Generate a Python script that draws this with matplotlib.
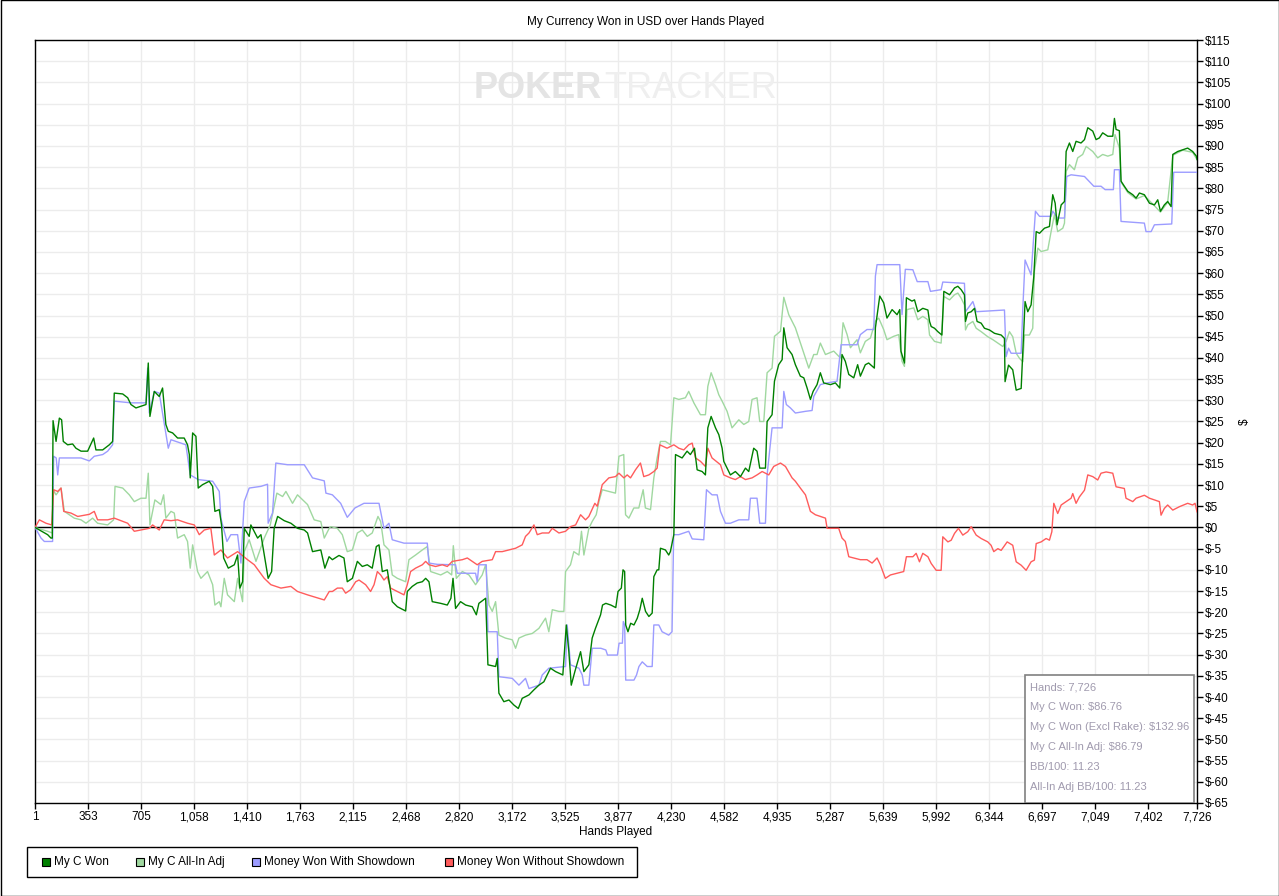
import matplotlib
matplotlib.use("Agg")
import matplotlib.pyplot as plt
from matplotlib.patches import Rectangle

# ---- data (hands played, dollars) ----
won_hands = [
    1, 41, 85, 107, 116, 121, 141, 163, 178, 189,
    218, 251, 273, 307, 351, 391, 406, 451, 495, 517,
    528, 584, 617, 639, 672, 705, 739, 754, 765, 794,
    827, 849, 871, 887, 916, 949, 993, 1015, 1027, 1033,
    1049, 1071, 1086, 1115, 1159, 1182, 1197, 1226, 1241, 1255,
    1286, 1326, 1348, 1363, 1381, 1392, 1425, 1436, 1481, 1503,
    1551, 1574, 1591, 1614, 1658, 1702, 1746, 1791, 1813, 1846,
    1901, 1928, 1956, 1978, 2022, 2055, 2077, 2111, 2144, 2177,
    2210, 2243, 2270, 2288, 2310, 2343, 2365, 2376, 2410, 2465,
    2476, 2509, 2542, 2576, 2598, 2620, 2642, 2698, 2742, 2766,
    2780, 2797, 2830, 2864, 2908, 2935, 2952, 2997, 3012, 3063,
    3074, 3085, 3118, 3152, 3185, 3214, 3240, 3285, 3318, 3351,
    3384, 3406, 3428, 3462, 3510, 3533, 3550, 3566, 3590, 3628,
    3650, 3683, 3705, 3727, 3761, 3774, 3796, 3829, 3862, 3877,
    3899, 3910, 3921, 3928, 3943, 3961, 3983, 4005, 4022, 4038,
    4049, 4060, 4082, 4104, 4115, 4137, 4148, 4159, 4192, 4214,
    4225, 4248, 4259, 4303, 4336, 4358, 4385, 4403, 4436, 4458,
    4474, 4496, 4525, 4547, 4569, 4580, 4602, 4624, 4657, 4691,
    4724, 4746, 4779, 4801, 4819, 4857, 4868, 4901, 4917, 4945,
    4968, 4979, 5001, 5034, 5056, 5089, 5112, 5134, 5156, 5174,
    5200, 5222, 5244, 5289, 5322, 5351, 5366, 5388, 5411, 5444,
    5470, 5488, 5521, 5543, 5581, 5588, 5617, 5643, 5665, 5699,
    5732, 5750, 5758, 5781, 5794, 5831, 5848, 5870, 5903, 5937,
    5948, 5959, 5981, 6003, 6030, 6043, 6081, 6114, 6136, 6158,
    6180, 6187, 6202, 6225, 6247, 6264, 6291, 6313, 6346, 6380,
    6424, 6446, 6450, 6473, 6501, 6524, 6557, 6568, 6583, 6601,
    6623, 6641, 6657, 6679, 6712, 6745, 6767, 6783, 6796, 6823,
    6845, 6856, 6878, 6900, 6922, 6955, 6978, 7000, 7033, 7055,
    7077, 7099, 7133, 7166, 7177, 7188, 7210, 7221, 7243, 7266,
    7299, 7321, 7343, 7376, 7410, 7443, 7465, 7483, 7509, 7531,
    7554, 7565, 7598, 7631, 7664, 7697, 7722, 7726,
]
won_usd = [
    0, -0.8, -1.7, -2.5, -2.5, 25.2, 20.3, 25.8, 25.4, 20.3,
    19.5, 19.7, 18.7, 18.0, 18.0, 21.1, 18.3, 18.3, 19.5, 20.3,
    31.7, 31.5, 30.6, 29.0, 28.2, 28.6, 29.0, 38.8, 26.2, 32.1,
    30.9, 32.9, 24.3, 22.7, 22.3, 21.1, 21.1, 19.5, 17.2, 11.7,
    22.3, 21.5, 9.3, 10.1, 10.9, 9.7, 3.8, 4.2, 0.6, -7.2,
    -9.6, -8.8, -6.5, -14.3, -12.8, -0.2, -2.1, 0.6, -2.5, -1.7,
    -12.0, -10.4, -0.2, 2.6, 1.6, 1.0, -0.2, -0.6, -1.3, -5.7,
    -5.3, -9.6, -6.9, -7.6, -6.6, -7.2, -12.8, -12.0, -8.0, -9.2,
    -8.8, -9.6, -4.5, -4.1, -10.4, -10.0, -15.1, -17.5, -18.7, -19.7,
    -15.1, -13.9, -13.1, -12.8, -12.0, -12.8, -17.5, -17.9, -18.3, -16.7,
    -12.0, -19.1, -17.5, -18.3, -18.7, -20.6, -17.9, -16.7, -32.4, -32.8,
    -30.9, -39.1, -41.1, -40.7, -41.9, -42.7, -40.3, -39.5, -38.3, -37.2,
    -36.4, -34.8, -33.2, -34.0, -34.8, -23.0, -29.3, -37.2, -34.0, -29.3,
    -34.0, -32.4, -26.1, -23.8, -20.6, -18.3, -17.9, -18.3, -18.9, -15.1,
    -14.3, -10.0, -10.4, -23.0, -24.6, -22.6, -23.0, -21.4, -19.4, -16.7,
    -18.3, -19.8, -21.0, -20.2, -11.6, -10.0, -10.0, -4.9, -5.3, -6.5,
    -5.7, -1.7, 17.2, 16.4, 18.0, 17.2, 18.7, 13.6, 13.2, 12.4,
    23.5, 26.2, 23.5, 21.9, 18.7, 15.6, 14.0, 12.4, 13.2, 12.0,
    14.0, 13.2, 18.7, 18.0, 14.0, 14.0, 25.0, 26.6, 34.5, 38.4,
    39.6, 47.1, 42.4, 40.8, 38.4, 35.7, 35.3, 32.9, 30.2, 32.1,
    33.7, 36.5, 34.1, 33.7, 34.1, 32.9, 40.8, 39.2, 36.1, 35.3,
    38.4, 35.7, 38.4, 38.8, 37.6, 47.1, 54.6, 53.0, 49.4, 51.4,
    50.2, 51.4, 41.6, 38.8, 54.2, 53.4, 53.7, 50.9, 51.7, 51.3,
    48.6, 47.4, 47.0, 46.2, 45.4, 55.7, 54.9, 56.5, 56.9, 56.1,
    54.9, 48.6, 50.6, 50.9, 51.7, 48.6, 48.2, 47.0, 46.6, 45.8,
    45.4, 44.6, 34.4, 38.3, 37.2, 32.4, 32.8, 41.5, 53.3, 50.9,
    52.5, 59.2, 69.8, 69.4, 70.6, 71.0, 78.5, 76.5, 71.4, 76.1,
    76.9, 88.7, 90.7, 88.7, 91.1, 90.7, 91.5, 94.3, 93.5, 91.5,
    91.9, 93.1, 92.3, 92.3, 96.5, 93.9, 93.6, 81.7, 80.5, 79.3,
    78.5, 77.7, 78.9, 78.5, 76.5, 76.1, 77.3, 74.6, 76.1, 76.9,
    75.7, 88.0, 88.7, 89.1, 89.5, 88.7, 87.6, 86.8,
]

allin_hands = [
    1, 85, 116, 121, 141, 174, 196, 229, 262, 307,
    340, 384, 417, 484, 524, 533, 584, 628, 661, 705,
    739, 754, 765, 798, 838, 856, 871, 905, 927, 949,
    993, 1015, 1033, 1049, 1082, 1104, 1148, 1182, 1197, 1226,
    1237, 1259, 1281, 1326, 1348, 1381, 1392, 1425, 1470, 1525,
    1565, 1609, 1647, 1669, 1713, 1746, 1813, 1857, 1901, 1924,
    1957, 1967, 2011, 2044, 2077, 2111, 2144, 2177, 2210, 2243,
    2281, 2299, 2321, 2354, 2376, 2410, 2465, 2487, 2531, 2576,
    2609, 2631, 2698, 2742, 2771, 2782, 2802, 2842, 2886, 2930,
    2974, 2997, 3019, 3041, 3063, 3085, 3129, 3174, 3196, 3218,
    3262, 3307, 3351, 3395, 3417, 3440, 3484, 3517, 3528, 3561,
    3583, 3617, 3634, 3650, 3683, 3705, 3732, 3750, 3772, 3860,
    3883, 3915, 3927, 3949, 3982, 4015, 4044, 4059, 4093, 4115,
    4137, 4159, 4192, 4226, 4248, 4281, 4325, 4347, 4381, 4425,
    4458, 4474, 4496, 4525, 4547, 4569, 4602, 4635, 4680, 4713,
    4746, 4768, 4801, 4819, 4846, 4868, 4901, 4917, 4957, 4979,
    5012, 5056, 5100, 5145, 5178, 5200, 5222, 5256, 5311, 5355,
    5373, 5400, 5422, 5466, 5488, 5521, 5555, 5588, 5610, 5643,
    5665, 5710, 5743, 5765, 5781, 5798, 5843, 5870, 5903, 5937,
    5948, 5981, 6025, 6043, 6081, 6114, 6136, 6158, 6180, 6187,
    6202, 6236, 6258, 6291, 6335, 6369, 6402, 6435, 6457, 6479,
    6501, 6524, 6546, 6568, 6579, 6612, 6634, 6645, 6668, 6690,
    6734, 6756, 6778, 6800, 6834, 6845, 6856, 6878, 6911, 6933,
    6966, 6989, 7033, 7066, 7099, 7133, 7166, 7181, 7210, 7221,
    7266, 7321, 7376, 7443, 7483, 7531, 7565, 7631, 7697, 7726,
]
allin_usd = [
    0, -0.9, -1.3, 8.9, 7.7, 9.3, 3.8, 3.0, 2.2, 1.8,
    1.0, 2.2, 1.0, 0.6, 1.8, 9.7, 9.3, 7.7, 6.1, 6.9,
    6.9, 12.8, 0.6, 6.5, 5.4, 7.7, 2.2, 3.8, 3.4, -2.5,
    -1.7, -3.3, -9.6, -4.1, -10.4, -12.0, -10.4, -13.5, -18.3, -17.5,
    -18.7, -12.0, -15.9, -17.5, -12.0, -17.5, -5.7, -2.9, -8.0, -2.5,
    0.6, 8.1, 7.3, 8.5, 5.7, 7.7, 5.4, 1.8, 1.4, -2.5,
    -0.2, 0.2, -0.2, -1.7, -5.7, -5.3, -1.3, -0.6, -2.1, -1.3,
    2.6, 1.4, -4.1, -5.3, -11.2, -12.0, -12.8, -7.6, -6.5, -5.3,
    -4.5, -10.4, -11.2, -10.4, -11.2, -4.3, -12.0, -10.4, -11.2, -13.5,
    -11.2, -8.8, -18.3, -19.8, -17.5, -25.4, -26.1, -26.5, -28.5, -26.1,
    -25.4, -25.0, -23.8, -21.4, -24.6, -19.4, -19.8, -19.8, -10.4, -8.8,
    -5.7, -6.5, -0.9, -6.5, -0.2, 1.4, 3.0, 6.1, 8.9, 8.1,
    16.8, 17.2, 3.0, 2.2, 4.6, 4.6, 8.9, 4.6, 4.2, 11.7,
    16.4, 20.3, 20.3, 19.5, 30.6, 30.2, 30.6, 32.1, 29.4, 26.6,
    26.6, 33.3, 36.5, 33.7, 31.3, 29.8, 27.4, 23.5, 25.4, 24.3,
    25.0, 30.2, 30.6, 25.0, 25.0, 36.5, 37.6, 45.1, 46.3, 54.3,
    50.2, 47.1, 42.4, 37.6, 40.8, 40.8, 43.5, 40.8, 41.6, 40.0,
    48.3, 45.5, 42.4, 44.3, 41.2, 43.9, 44.7, 48.7, 49.4, 46.7,
    44.3, 45.1, 45.5, 39.2, 38.0, 51.4, 51.8, 49.0, 49.8, 49.0,
    45.4, 43.9, 43.5, 54.5, 53.7, 54.9, 55.3, 54.1, 52.5, 46.6,
    47.8, 48.6, 47.0, 46.2, 45.0, 44.3, 43.5, 42.7, 43.9, 46.2,
    45.0, 41.1, 39.9, 39.1, 45.4, 45.4, 47.0, 60.4, 65.9, 65.1,
    65.5, 69.8, 73.8, 69.8, 70.6, 71.8, 84.0, 85.6, 84.4, 87.2,
    88.0, 89.9, 88.7, 87.2, 88.0, 87.6, 88.0, 92.7, 89.5, 81.5,
    79.0, 77.5, 78.3, 75.9, 74.4, 76.7, 87.8, 89.0, 88.5, 86.8,
]

showdown_hands = [
    1, 41, 63, 118, 125, 142, 152, 163, 307, 362,
    395, 451, 484, 517, 528, 639, 739, 750, 761, 794,
    827, 860, 887, 905, 1004, 1033, 1086, 1182, 1197, 1226,
    1237, 1248, 1277, 1303, 1348, 1370, 1392, 1425, 1503, 1547,
    1551, 1580, 1602, 1680, 1791, 1846, 1924, 1935, 1978, 2033,
    2077, 2128, 2188, 2288, 2321, 2354, 2376, 2454, 2609, 2620,
    2675, 2797, 2808, 2930, 2941, 2952, 3001, 3012, 3074, 3085,
    3174, 3218, 3262, 3285, 3351, 3373, 3417, 3528, 3539, 3561,
    3617, 3639, 3650, 3683, 3705, 3763, 3796, 3807, 3873, 3884,
    3906, 3912, 3921, 3928, 3983, 4000, 4016, 4038, 4071, 4104,
    4115, 4148, 4170, 4214, 4236, 4247, 4281, 4314, 4347, 4370,
    4447, 4465, 4502, 4536, 4558, 4591, 4624, 4680, 4746, 4757,
    4801, 4819, 4857, 4868, 4901, 4968, 4979, 4996, 5023, 5056,
    5123, 5167, 5178, 5222, 5267, 5333, 5360, 5466, 5488, 5532,
    5577, 5588, 5599, 5750, 5765, 5787, 5837, 5866, 5937, 5954,
    6025, 6036, 6180, 6187, 6236, 6258, 6446, 6457, 6473, 6490,
    6557, 6568, 6583, 6623, 6652, 6679, 6756, 6767, 6800, 6845,
    6860, 6889, 6978, 7040, 7088, 7115, 7170, 7177, 7210, 7221,
    7376, 7387, 7421, 7443, 7558, 7571, 7726,
]
showdown_usd = [
    0, -2.5, -3.3, -3.3, 16.8, 16.4, 12.4, 16.4, 16.4, 15.7,
    16.8, 17.2, 18.0, 19.5, 29.8, 29.4, 29.4, 37.6, 27.0, 32.1,
    31.7, 24.6, 18.7, 20.7, 19.5, 12.4, 11.3, 10.9, 10.1, 8.5,
    2.2, 0.6, -3.3, -1.7, -1.7, -8.4, 6.1, 9.3, 9.7, 10.2,
    1.0, 3.4, 15.2, 14.8, 14.8, 11.7, 11.0, 8.1, 7.7, 5.7,
    2.4, 4.6, 5.7, 5.7, -0.2, 1.0, -2.9, -3.7, -3.7, -8.4,
    -8.7, -8.8, -10.8, -10.8, -12.8, -8.8, -8.8, -24.6, -24.6, -35.2,
    -35.6, -37.2, -35.6, -38.0, -37.2, -34.8, -33.2, -32.8, -23.0, -32.4,
    -33.2, -34.8, -37.2, -37.2, -28.5, -28.5, -28.9, -30.1, -30.1, -27.3,
    -27.3, -22.2, -23.0, -36.0, -36.0, -34.8, -32.8, -31.7, -32.8, -32.8,
    -23.0, -23.0, -24.6, -25.4, -24.6, -1.7, -1.7, -1.3, -0.9, -2.7,
    -2.9, 8.9, 7.7, 7.7, 3.8, 1.0, 1.0, 1.8, 1.8, 6.9,
    6.9, 1.0, 1.0, 12.4, 23.5, 23.5, 32.1, 29.0, 28.2, 27.0,
    27.4, 27.6, 30.9, 33.7, 34.1, 34.5, 43.1, 43.1, 45.5, 46.7,
    46.7, 59.3, 62.0, 62.0, 50.2, 60.9, 60.8, 58.0, 58.0, 55.7,
    56.1, 57.9, 57.6, 50.9, 53.3, 50.9, 51.3, 40.3, 42.3, 41.1,
    41.1, 51.7, 63.1, 59.6, 74.6, 73.4, 73.4, 74.6, 73.0, 73.0,
    82.8, 83.2, 82.8, 80.5, 80.5, 79.7, 79.7, 84.4, 84.4, 72.2,
    71.8, 69.8, 69.8, 71.4, 71.6, 83.8, 83.8,
]

no_showdown_hands = [
    1, 30, 74, 112, 125, 152, 174, 192, 240, 285,
    362, 395, 417, 484, 528, 572, 617, 661, 705, 761,
    783, 827, 860, 905, 949, 1015, 1060, 1093, 1126, 1170,
    1193, 1237, 1281, 1348, 1414, 1459, 1525, 1569, 1636, 1702,
    1746, 1813, 1924, 1957, 1978, 2011, 2044, 2066, 2099, 2133,
    2155, 2199, 2232, 2255, 2277, 2299, 2321, 2343, 2365, 2410,
    2454, 2476, 2498, 2531, 2576, 2598, 2620, 2664, 2709, 2742,
    2775, 2842, 2875, 2908, 2941, 2974, 3041, 3063, 3107, 3152,
    3196, 3240, 3262, 3285, 3318, 3340, 3373, 3417, 3440, 3484,
    3528, 3561, 3595, 3628, 3661, 3683, 3723, 3739, 3772, 3816,
    3860, 3883, 3916, 3938, 3960, 3993, 4026, 4048, 4082, 4115,
    4137, 4155, 4203, 4248, 4281, 4314, 4347, 4370, 4392, 4425,
    4458, 4474, 4502, 4558, 4580, 4624, 4657, 4691, 4724, 4768,
    4801, 4835, 4879, 4912, 4957, 4990, 5034, 5056, 5089, 5123,
    5156, 5189, 5222, 5256, 5267, 5344, 5366, 5388, 5411, 5444,
    5488, 5532, 5566, 5599, 5621, 5654, 5688, 5732, 5776, 5794,
    5837, 5859, 5881, 5903, 5937, 5959, 5992, 6025, 6036, 6070,
    6092, 6114, 6140, 6169, 6202, 6225, 6258, 6291, 6335, 6357,
    6375, 6402, 6424, 6464, 6501, 6524, 6557, 6590, 6623, 6645,
    6657, 6690, 6723, 6745, 6761, 6774, 6800, 6823, 6856, 6889,
    6900, 6922, 6944, 6978, 7000, 7033, 7066, 7088, 7122, 7166,
    7188, 7243, 7254, 7299, 7321, 7376, 7410, 7443, 7476, 7487,
    7509, 7531, 7565, 7609, 7664, 7697, 7713, 7726,
]
no_showdown_usd = [
    0, 1.8, 1.0, 0.6, 8.9, 8.5, 9.3, 3.8, 3.4, 2.6,
    3.1, 3.8, 1.8, 1.8, 2.2, 1.6, 1.0, -0.9, -0.6, -0.2,
    0.6, -0.6, 1.8, 1.6, 1.8, 1.0, 0.6, -1.7, -0.6, -0.2,
    -6.5, -5.3, -7.2, -5.7, -7.6, -8.8, -12.0, -13.5, -14.3, -13.9,
    -15.1, -15.9, -17.1, -15.1, -15.1, -14.3, -14.3, -15.5, -14.7, -12.8,
    -12.4, -13.5, -15.1, -13.5, -10.4, -11.2, -12.4, -11.6, -14.3, -15.1,
    -15.9, -13.5, -10.4, -9.6, -8.8, -8.0, -8.8, -9.2, -8.8, -9.2,
    -8.0, -7.6, -7.2, -8.0, -8.8, -8.0, -7.6, -5.7, -5.7, -5.3,
    -4.9, -4.1, -2.1, -1.3, 0.6, -1.7, -1.3, -1.3, -0.2, -1.3,
    -0.9, 0.2, 0.6, 3.0, 1.8, 2.6, 5.7, 5.0, 10.1, 11.7,
    12.0, 12.8, 11.7, 12.4, 11.7, 13.6, 15.2, 12.0, 12.4, 13.2,
    14.0, 19.5, 18.7, 19.5, 18.7, 18.3, 19.5, 19.9, 16.4, 15.6,
    14.4, 18.7, 16.4, 14.8, 12.4, 11.7, 11.3, 12.0, 11.3, 11.7,
    12.4, 13.2, 12.4, 14.4, 15.2, 14.4, 11.7, 10.9, 9.3, 7.7,
    3.8, 3.0, 2.6, 2.2, -0.2, -0.2, -2.5, -3.3, -6.9, -7.2,
    -7.6, -7.6, -8.4, -7.2, -8.8, -12.0, -11.2, -10.8, -10.4, -6.9,
    -6.9, -6.1, -8.1, -6.1, -6.9, -8.5, -10.1, -10.1, -2.2, -3.4,
    -3.0, -1.4, -0.2, -1.8, -1.0, 0.2, -1.8, -2.6, -3.4, -4.2,
    -5.7, -5.0, -5.4, -3.4, -4.2, -8.1, -8.9, -10.1, -8.1, -7.7,
    -3.8, -3.4, -2.6, -3.0, -1.0, 5.7, 3.3, 5.3, 6.1, 6.9,
    8.0, 5.7, 7.2, 8.8, 12.4, 12.0, 11.2, 12.8, 13.1, 12.8,
    9.6, 9.2, 6.9, 6.1, 6.9, 7.6, 6.9, 6.5, 6.1, 2.9,
    4.5, 5.3, 4.1, 4.9, 5.7, 5.3, 5.7, 3.7,
]

x_ticks = [1, 353, 705, 1058, 1410, 1763, 2115, 2468, 2820, 3172, 3525, 3877,
           4230, 4582, 4935, 5287, 5639, 5992, 6344, 6697, 7049, 7402, 7726]
y_ticks = list(range(-65, 116, 5))

series_names = ["My C Won", "My C All-In Adj", "Money Won With Showdown",
                "Money Won Without Showdown"]
series_colors = ["#008000", "#a0d8a0", "#9c9cff", "#ff5c5c"]

stats_lines = ["Hands: 7,726", "My C Won: $86.76", "My C Won (Excl Rake): $132.96",
               "My C All-In Adj: $86.79", "BB/100: 11.23", "All-In Adj BB/100: 11.23"]

plt.rcParams["font.family"] = ["Liberation Sans", "DejaVu Sans"]

W, H = 1279, 896
fig = plt.figure(figsize=(W / 100, H / 100), dpi=100)
ax = fig.add_axes([35 / W, 1 - 803 / H, 1162 / W, 763 / H])

# lines
ax.plot(allin_hands, allin_usd, color=series_colors[1], lw=1.0, zorder=3)
ax.plot(showdown_hands, showdown_usd, color=series_colors[2], lw=1.0, zorder=3)
ax.plot(no_showdown_hands, no_showdown_usd, color=series_colors[3], lw=1.0, zorder=3)
ax.plot(won_hands, won_usd, color=series_colors[0], lw=1.0, zorder=4)
ax.axhline(0, color="black", lw=1.0, zorder=2.5)

ax.set_xlim(1, 7726)
ax.set_ylim(-65, 115)
ax.set_xticks(x_ticks)
ax.set_xticklabels([f"{t:,}" for t in x_ticks], fontsize=8.5)
ax.set_yticks(y_ticks)
ax.set_yticklabels([f"${t}" for t in y_ticks], fontsize=8.5)
ax.yaxis.tick_right()
ax.yaxis.set_label_position("right")
ax.tick_params(axis="both", direction="out", length=4, width=1, pad=2)
ax.set_ylabel("$", fontsize=8.5, labelpad=5)
ax.set_xlabel("Hands Played", fontsize=8.5, labelpad=2)
ax.grid(True, color="#ececec", lw=1.0, zorder=0)
ax.set_axisbelow(True)
for s in ax.spines.values():
    s.set_color("black")
    s.set_linewidth(1.0)

fig.text(646 / W, 1 - 22 / H, "My Currency Won in USD over Hands Played",
         ha="center", va="center", fontsize=8.5)

# watermark
fig.text(602 / W, 1 - 89 / H, "POKER", ha="right", va="center", fontsize=26,
         fontweight="bold", color="#e4e4e4", zorder=0)
fig.text(604 / W, 1 - 89 / H, "TRACKER", ha="left", va="center", fontsize=26,
         color="#efefef", zorder=0)

# stats box (bottom right of plot)
ax.add_patch(Rectangle((0.852, 0.0), 0.1455, 0.168, transform=ax.transAxes,
                       facecolor="white", edgecolor="#808080", lw=1.2, zorder=5))
for i, line in enumerate(stats_lines):
    ax.text(0.8565, 0.152 - i * 0.0262, line, transform=ax.transAxes,
            fontsize=8, color="#a09aae", va="center", ha="left", zorder=6)

# legend drawn in figure pixels
def fx(px):
    return px / W

def fy(py):
    return 1 - py / H

fig.patches.append(Rectangle((fx(27), fy(877)), fx(610), 30 / H, transform=fig.transFigure,
                             fill=False, edgecolor="black", lw=1.0))
sq_x = [42, 136, 252, 445]
for x0, name, col in zip(sq_x, series_names, series_colors):
    fig.patches.append(Rectangle((fx(x0), fy(866)), 8 / W, 8 / H, transform=fig.transFigure,
                                 facecolor=col, edgecolor="black", lw=0.8))
    fig.text(fx(x0 + 12), fy(862), name, ha="left", va="center", fontsize=8.5)

# outer border
fig.patches.append(Rectangle((0.5 / W, 0.5 / H), 1 - 1 / W, 1 - 1 / H,
                             transform=fig.transFigure, fill=False,
                             edgecolor="black", lw=1.0))

fig.savefig("out.png", dpi=100)
